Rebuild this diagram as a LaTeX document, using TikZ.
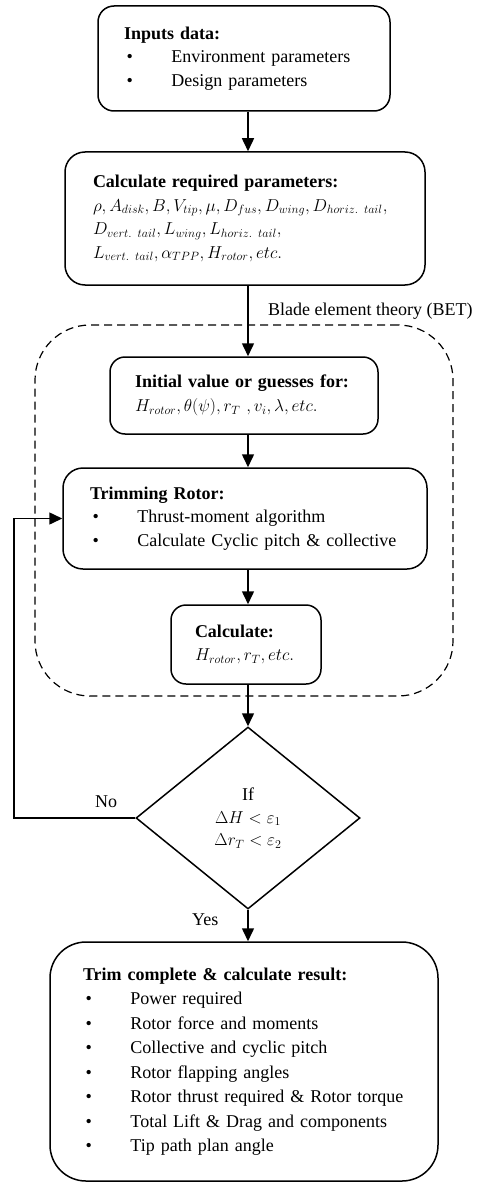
\documentclass[tikz,border=0pt]{standalone}
\usepackage{fontspec}
\setmainfont{Liberation Serif}
\usetikzlibrary{shapes.geometric,arrows.meta}
\newcommand{\bul}[1]{\makebox[47.5pt][l]{\hspace{2.5pt}\textbullet}#1}
\tikzset{
  box/.style={draw, line width=1.5pt, align=left, inner ysep=0pt,
    font=\fontsize{18}{23.5}\selectfont},
  dec/.style={draw, diamond, line width=1.5pt, align=center, inner sep=0pt,
    font=\fontsize{18}{22.5}\selectfont},
  arr/.style={line width=1.5pt, -{Triangle[length=13pt,width=12pt]}},
  lbl/.style={anchor=base west, inner sep=0pt, font=\fontsize{18}{22}\selectfont},
  betbox/.style={draw, dash pattern=on 8pt off 5pt, line width=1.2pt, rounded corners=55pt}
}
\begin{document}
\begin{tikzpicture}[x=1pt,y=-1pt]
\useasboundingbox (0,0) rectangle (481,1185);
\coordinate (ax) at (248,0);
\coordinate (fb) at (14,0);

\node[betbox, minimum width=418pt, minimum height=371pt] (bet) at (244,510.5) {};

\node[box, rounded corners=16pt, minimum width=292pt, minimum height=105pt,
  text width=240pt, inner xsep=26pt] (inp) at (244,58.5)
  {\textbf{Inputs data:}\\ \bul{Environment parameters}\\ \bul{Design parameters}};

\node[box, rounded corners=20pt, minimum width=360pt, minimum height=133pt,
  text width=304pt, inner xsep=28pt] (req) at (245,218.5)
  {\textbf{Calculate required parameters:}\\
   $\rho, A_{disk}, B, V_{tip}, \mu, D_{fus}, D_{wing}, D_{horiz.\ tail},$\\
   $D_{vert.\ tail}, L_{wing}, L_{horiz.\ tail},$\\
   $L_{vert.\ tail}, \alpha_{TPP}, H_{rotor}, etc.$};

\node[box, rounded corners=15pt, minimum width=268pt, minimum height=77pt,
  text width=218pt, inner xsep=25pt] (ini) at (244,395.5)
  {\textbf{Initial value or guesses for:}\\
   $H_{rotor}, \theta(\psi), r_T\ , v_i, \lambda, etc.$};

\node[box, rounded corners=20pt, minimum width=364pt, minimum height=101pt,
  text width=310pt, inner xsep=27pt] (trim) at (245,518.5)
  {\textbf{Trimming Rotor:}\\ \bul{Thrust-moment algorithm}\\ \bul{Calculate Cyclic pitch \& collective}};

\node[box, rounded corners=15pt, minimum width=150pt, minimum height=79pt,
  text width=102pt, inner xsep=24pt] (calc) at (246,644.5)
  {\textbf{Calculate:}\\ $H_{rotor}, r_T, etc.$};

\node[dec, minimum width=224pt, minimum height=182pt] (dia) at (248,818)
  {If\\ $\Delta H < \varepsilon_1$\\ $\Delta r_T < \varepsilon_2$};

\node[box, rounded corners=36pt, minimum width=388pt, minimum height=239pt,
  text width=322pt, inner xsep=33pt, font=\fontsize{18}{24.5}\selectfont] (res) at (244,1061.5)
  {\textbf{Trim complete \& calculate result:}\\
   \bul{Power required}\\
   \bul{Rotor force and moments}\\
   \bul{Collective and cyclic pitch}\\
   \bul{Rotor flapping angles}\\
   \bul{Rotor thrust required \& Rotor torque}\\
   \bul{Total Lift \& Drag and components}\\
   \bul{Tip path plan angle}};

\node[lbl] (betl) at (268,315) {Blade element theory (BET)};
\node[lbl] (nol) at (95,807) {No};
\node[lbl] (yesl) at (192,925) {Yes};

\draw[arr] (inp.south -| ax) -- (req.north -| ax);
\draw[arr] (req.south -| ax) -- (ini.north -| ax);
\draw[arr] (ini.south -| ax) -- (trim.north -| ax);
\draw[arr] (trim.south -| ax) -- (calc.north -| ax);
\draw[arr] (calc.south -| ax) -- (dia.north);
\draw[arr] (dia.south) -- (res.north -| ax);
\draw[arr] (dia.west) -- (dia.west -| fb) |- (trim.west);
\end{tikzpicture}
\end{document}
